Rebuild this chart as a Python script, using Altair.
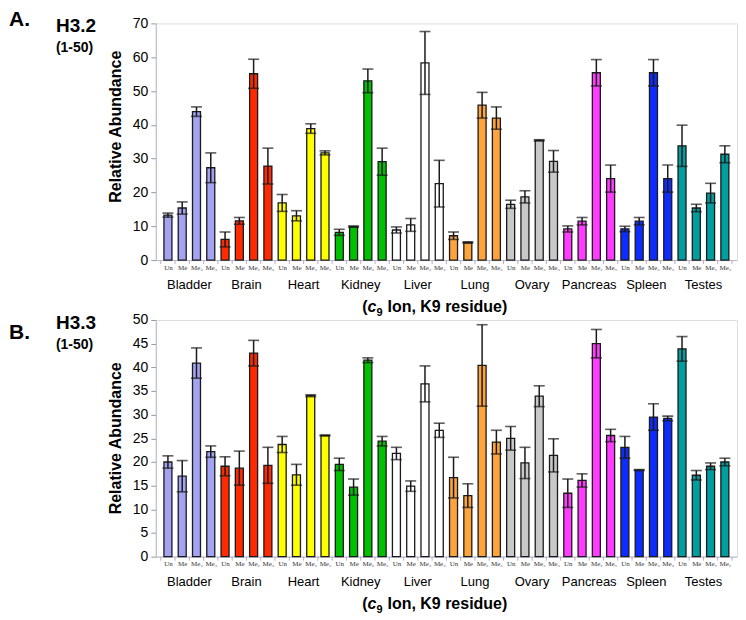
import altair as alt
import pandas as pd

tissues = ["Bladder", "Brain", "Heart", "Kidney", "Liver", "Lung", "Ovary",
           "Pancreas", "Spleen", "Testes"]
states = ["Un", "Me", "Me₂", "Me₃"]
colors = ["#a3a3f2", "#ff2a00", "#ffff00", "#00c000", "#ffffff", "#ffa43c",
          "#c8c8c8", "#ff3cff", "#0f2cff", "#009e9e"]

# H3.2 (1-50) — relative abundance and error (+/-)
h32_values = [13.3, 15.4, 43.9, 27.3, 6.1, 11.6, 55.1, 27.8, 16.9, 13.1, 38.9, 31.7,
              8.2, 9.9, 53.0, 29.1, 8.9, 10.4, 58.3, 22.6, 7.2, 5.2, 45.8, 42.0,
              16.5, 18.7, 35.4, 29.2, 9.2, 11.5, 55.4, 24.1, 9.2, 11.5, 55.4, 24.1,
              33.8, 15.4, 19.8, 31.3]
h32_errors = [0.6, 1.8, 1.4, 4.4, 2.2, 1.0, 4.3, 5.3, 2.5, 1.5, 1.4, 0.6,
              0.9, 0.2, 3.5, 4.0, 0.9, 1.9, 9.3, 6.9, 1.1, 0.2, 3.8, 3.3,
              1.2, 1.8, 0.2, 3.2, 0.9, 1.1, 3.9, 4.0, 0.8, 1.1, 3.9, 4.0,
              6.1, 1.1, 2.9, 2.5]
# H3.3 (1-50)
h33_values = [20.0, 17.0, 40.9, 22.2, 19.1, 18.7, 43.0, 19.3, 23.7, 17.3, 34.0, 25.6,
              19.5, 14.7, 41.5, 24.4, 21.8, 14.9, 36.5, 26.7, 16.7, 12.9, 40.4, 24.2,
              25.0, 19.8, 33.9, 21.4, 13.4, 16.1, 45.0, 25.6, 23.1, 18.3, 29.5, 29.2,
              43.9, 17.2, 19.1, 20.0]
h33_errors = [1.3, 3.3, 3.2, 1.2, 2.0, 3.6, 2.7, 3.8, 1.7, 2.2, 0.2, 0.1,
              1.3, 1.7, 0.5, 1.0, 1.3, 1.1, 3.8, 1.5, 4.3, 2.5, 8.6, 2.5,
              2.5, 3.3, 2.2, 3.5, 3.0, 1.4, 3.0, 1.3, 2.3, 0.1, 2.8, 0.5,
              2.6, 1.0, 0.7, 0.8]

W, H = 582, 237
FONT = "Liberation Sans"
state_expr = "[" + ",".join("'" + s + "'" for s in states) + "][datum.value % 4]"


def panel(letter, name, values, errors, ymax, ystep, title_y):
    n = len(values)
    df = pd.DataFrame({
        "idx": list(range(n)),
        "tissue": [tissues[i // 4] for i in range(n)],
        "state": [states[i % 4] for i in range(n)],
        "value": values,
        "lo": [v - e for v, e in zip(values, errors)],
        "hi": [v + e for v, e in zip(values, errors)],
    })
    xscale = alt.Scale(domain=[-0.5, n - 0.5], nice=False, zero=False)
    xaxis = alt.Axis(values=list(range(n)), labelExpr=state_expr, ticks=False,
                     grid=False, domainColor="#b4bccc", labelFont="Liberation Serif",
                     labelFontSize=7, labelColor="#333333", labelPadding=3,
                     labelAngle=0, title=None, labelOverlap=False)
    yscale = alt.Scale(domain=[0, ymax], nice=False)
    yaxis = alt.Axis(values=list(range(0, ymax + 1, ystep)), title="Relative Abundance",
                     titleFont=FONT, titleFontSize=16, titleFontWeight="bold",
                     titleColor="black", titlePadding=9, titleY=title_y,
                     labelFont=FONT, labelFontSize=14, labelColor="black",
                     grid=False, domainColor="#b4bccc", tickColor="#999999",
                     tickSize=5, labelPadding=3)

    def X(field):
        return alt.X(field, scale=xscale, axis=xaxis)

    def Y(field):
        return alt.Y(field, scale=yscale, axis=yaxis)

    base = alt.Chart(df)
    bars = base.mark_bar(size=8, stroke="#1a1a1a", strokeWidth=1.3).encode(
        x=X("idx:Q"), y=Y("value:Q"),
        color=alt.Color("tissue:N", scale=alt.Scale(domain=tissues, range=colors),
                        legend=None))
    rules = base.mark_rule(color="#1a1a1a", strokeWidth=1.5).encode(
        x=X("idx:Q"), y=Y("lo:Q"), y2="hi:Q")
    caps_hi = base.mark_tick(orient="horizontal", size=11, thickness=1.6,
                             color="#1a1a1a").encode(x=X("idx:Q"), y=Y("hi:Q"))
    caps_lo = base.mark_tick(orient="horizontal", size=11, thickness=1.6,
                             color="#1a1a1a").encode(x=X("idx:Q"), y=Y("lo:Q"))

    bdf = pd.DataFrame({"b": [i - 0.5 for i in range(n + 1)]})
    bticks = alt.Chart(bdf).mark_rule(color="#c4a8c8", strokeWidth=1).encode(
        x=X("b:Q"), y=alt.value(H), y2=alt.value(H + 4))

    tdf = pd.DataFrame({"tissue": tissues,
                        "c": [i * 4 + 1.5 for i in range(len(tissues))]})
    tlabels = alt.Chart(tdf).mark_text(font=FONT, fontSize=13, baseline="alphabetic",
                                       color="black").encode(
        x=X("c:Q"), y=alt.value(H + 29), text="tissue:N")

    def note(txt, x, y, size, align="left", baseline="top", style="normal", dy=0):
        return alt.Chart(pd.DataFrame({"t": [txt]})).mark_text(
            font=FONT, fontSize=size, fontWeight="bold", fontStyle=style,
            align=align, baseline=baseline, color="black", dy=dy).encode(
            x=alt.value(x), y=alt.value(y), text="t:N")

    ly = -14 if letter == "A." else 2
    notes = [
        note(letter, -147, ly, 21),
        note(name, -100, -6, 19),
        note("(1-50)", -100, 18, 14),
        note("(", 212, H + 52, 16, align="right", baseline="alphabetic"),
        note("c", 212, H + 52, 16, baseline="alphabetic", style="italic"),
        note("9", 221, H + 56, 11, baseline="alphabetic"),
        note("Ion, K9 residue)", 232, H + 52, 16, baseline="alphabetic"),
    ]
    return alt.layer(bars, rules, caps_hi, caps_lo, bticks, tlabels, *notes).properties(
        width=W, height=H)


pa = panel("A.", "H3.2", h32_values, h32_errors, 70, 10, 103)
pb = panel("B.", "H3.3", h33_values, h33_errors, 50, 5, 118)

chart = alt.vconcat(pa, pb, spacing=-7).properties(padding=0).configure_view(
    stroke=None).configure(background="white")

chart.save("out.html", embed_options={"renderer": "svg", "actions": False})
